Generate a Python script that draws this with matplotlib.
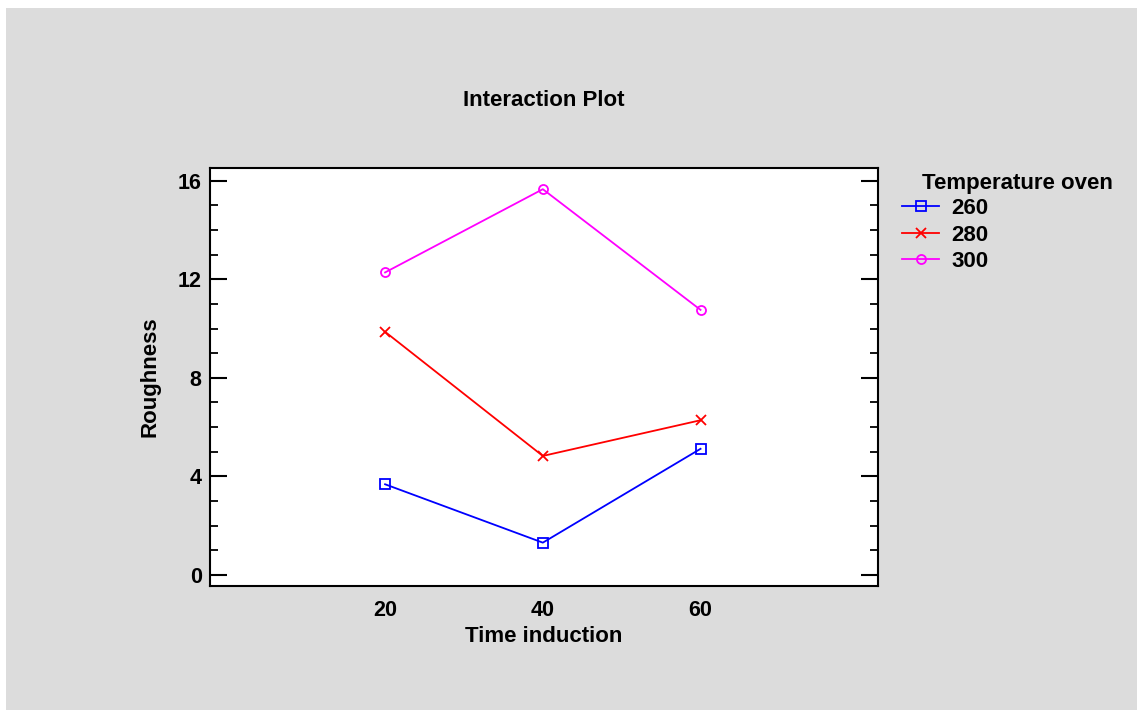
import numpy as np
import matplotlib.pyplot as plt
from matplotlib.patches import Rectangle
from matplotlib.ticker import MultipleLocator

plt.rcParams['font.family'] = ['Liberation Sans', 'DejaVu Sans']
plt.rcParams['font.weight'] = 'bold'

time_induction = [20, 40, 60]
temps = ['260', '280', '300']
rough_260 = [3.68, 1.31, 5.12]
rough_280 = [9.87, 4.83, 6.28]
rough_300 = [12.28, 15.66, 10.76]

W, H = 1137, 710
fig = plt.figure(figsize=(W / 100, H / 100), dpi=100, facecolor='white')
# gray panel behind everything
fig.patches.append(Rectangle((6 / W, 0), 1 - 6 / W, (H - 8) / H,
                             transform=fig.transFigure, facecolor='#dcdcdc',
                             edgecolor='none', zorder=-10))

ax = fig.add_axes([210 / W, (H - 586) / H, 668 / W, (586 - 168) / H])
ax.set_facecolor('white')

series = [(rough_260, 'blue', 's'), (rough_280, 'red', 'x'), (rough_300, 'magenta', 'o')]
for (vals, col, mk), lab in zip(series, temps):
    ax.plot(time_induction, vals, color=col, lw=1.3, marker=mk, ms=6.5,
            mfc='none', mec=col, mew=1.3, label=lab)

ax.set_xlim(-2.2, 82.5)
ax.set_ylim(-0.45, 16.52)
ax.set_xticks(time_induction)
ax.yaxis.set_major_locator(MultipleLocator(4))
ax.yaxis.set_minor_locator(MultipleLocator(1))
ax.tick_params(axis='x', length=0, labelsize=15.5, pad=10)
ax.tick_params(axis='y', which='major', direction='in', length=12, width=1.5,
               labelsize=15.5, right=True, pad=6)
ax.tick_params(axis='y', which='minor', direction='in', length=6, width=1.3, right=True)
for s in ax.spines.values():
    s.set_linewidth(1.5)
for t in ax.get_xticklabels() + ax.get_yticklabels():
    t.set_fontweight('bold')

ax.set_xlabel('Time induction', fontsize=16, fontweight='bold', labelpad=4)
ax.set_ylabel('Roughness', fontsize=16, fontweight='bold', labelpad=12)
ax.set_title('Interaction Plot', fontsize=16, fontweight='bold', pad=45)

leg = ax.legend(loc='upper left', bbox_to_anchor=(902 / W, 1 - 198 / H),
                bbox_transform=fig.transFigure, frameon=False,
                handlelength=1.67, handletextpad=0.54, labelspacing=0.25,
                borderaxespad=0, borderpad=0,
                prop={'weight': 'bold', 'size': 16})
fig.text(922 / W, 1 - 183 / H, 'Temperature oven', fontsize=16,
         fontweight='bold', va='center', ha='left')

fig.savefig('out.png', dpi=100, facecolor=fig.get_facecolor())
